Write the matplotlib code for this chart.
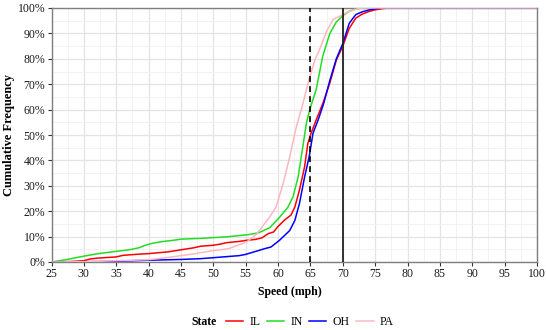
import matplotlib
matplotlib.use("Agg")
import matplotlib.pyplot as plt
from matplotlib.ticker import MultipleLocator, FuncFormatter

plt.rcParams['font.family'] = ['Liberation Serif', 'DejaVu Serif']

states = ["IL", "IN", "OH", "PA"]
colors = ["#FF0000", "#22DD22", "#0000FF", "#FFB6C1"]

il_speed = [25, 28, 30, 31, 32, 35, 36, 38, 40, 43, 45, 47, 48, 50, 51, 52, 54, 55, 56.5, 57.5, 58.5, 59.3, 60, 61, 62, 62.6, 63.3, 64.1, 64.6, 65.1, 65.9, 67, 68, 69, 70, 71, 72, 73, 74, 75, 76, 77, 100]
il_pct = [0, 0.2, 0.5, 1.2, 1.5, 2.0, 2.6, 3.0, 3.3, 4.0, 4.8, 5.6, 6.2, 6.6, 7.0, 7.6, 8.1, 8.5, 8.9, 9.5, 11.2, 11.8, 14.0, 16.5, 18.5, 21.7, 28.3, 37.5, 46.7, 50.7, 56, 63, 70.5, 79.5, 85, 92, 96, 97.6, 98.6, 99.3, 99.7, 100, 100]

in_speed = [25, 27, 30, 32, 35, 37, 38.5, 39.5, 40.5, 42, 44, 45, 48, 50, 52, 54, 55.5, 57, 58.7, 60.2, 61.5, 62.3, 63.1, 63.8, 64.4, 64.9, 65.9, 66.9, 68, 69, 70, 71, 72, 73, 100]
in_pct = [0, 0.8, 2.3, 3.2, 4.2, 4.8, 5.6, 6.6, 7.3, 8.0, 8.6, 9.0, 9.3, 9.6, 9.9, 10.4, 10.8, 11.5, 13.5, 17.5, 21.5, 25.6, 33.5, 45, 55, 60, 68, 81, 90, 94.5, 97, 98.7, 99.6, 100, 100]

oh_speed = [25, 30, 35, 40, 45, 48, 50, 52, 54, 55, 56.7, 58, 58.9, 60.2, 61.8, 62.6, 63.3, 64.1, 64.8, 65.4, 66.2, 67, 68, 69, 70, 71, 72, 73, 74, 75, 76, 100]
oh_pct = [0, 0.1, 0.3, 0.7, 1.0, 1.3, 1.7, 2.1, 2.5, 3.0, 4.3, 5.3, 5.9, 8.5, 12.4, 16.4, 23, 33.5, 41.4, 50.7, 56, 62, 71.5, 80, 86, 94, 97.4, 98.5, 99.2, 99.7, 100, 100]

pa_speed = [25, 30, 35, 40, 43.3, 45, 47, 49.5, 51, 52.3, 54, 55.1, 56.7, 58.7, 59.7, 60.8, 61.8, 62.8, 63.8, 64.9, 65.7, 66.4, 67.5, 68.5, 70, 71, 72, 73, 100]
pa_pct = [0, 0.1, 0.5, 0.9, 1.9, 2.5, 3.2, 4.3, 4.8, 5.2, 6.8, 7.8, 11, 17.7, 21.7, 31, 41.4, 53, 62, 73, 79.6, 83.6, 90.8, 95.5, 97.4, 98.7, 99.5, 100, 100]

speeds = [il_speed, in_speed, oh_speed, pa_speed]
pcts = [il_pct, in_pct, oh_pct, pa_pct]

x_ticks = list(range(25, 101, 5))
y_ticks = list(range(0, 101, 10))
limit_dashed = 65
limit_solid = 70

fs = 8.5
fig = plt.figure(figsize=(5.46, 3.30), dpi=100)
ax = fig.add_axes([51.5/546, 1-262/330, (537-51.5)/546, (262-8)/330])

for s, x, y, c in zip(states, speeds, pcts, colors):
    ax.plot(x, [v/100 for v in y], color=c, lw=1.1, label=s, zorder=3)

ax.axvline(limit_dashed, color="black", lw=1.2, ls=(0, (3.5, 2.5)), zorder=4)
ax.axvline(limit_solid, color="#222222", lw=1.3, zorder=4)

ax.set_xlim(25, 100)
ax.set_ylim(0, 1)
ax.set_xticks(x_ticks)
ax.set_yticks([t/100 for t in y_ticks])
ax.yaxis.set_major_formatter(FuncFormatter(lambda v, p: f"{int(round(v*100))}%"))
ax.xaxis.set_minor_locator(MultipleLocator(2.5))
ax.yaxis.set_minor_locator(MultipleLocator(0.05))
ax.grid(which="major", color="#e3e3e3", lw=0.9, zorder=0)
ax.grid(which="minor", color="#f0f0f0", lw=0.6, zorder=0)
ax.set_axisbelow(True)
for sp in ax.spines.values():
    sp.set_color("#7f7f7f")
    sp.set_linewidth(1.0)
ax.tick_params(which="major", direction="out", length=3, width=0.8, color="#333333", labelsize=fs, labelcolor="#1a1a1a", pad=1.5)
ax.tick_params(which="minor", length=0)

ax.set_xlabel("Speed (mph)", fontsize=fs, fontweight="bold")
ax.set_ylabel("Cumulative Frequency", fontsize=9, fontweight="bold")
ax.xaxis.set_label_coords((290 - 51.5)/485.5, (262 - 286)/254)
ax.yaxis.set_label_coords((15 - 51.5)/485.5, 0.5)

leg = fig.legend(loc="center", bbox_to_anchor=(310/546, 1-322/330), ncol=4, frameon=False,
                 fontsize=fs, handlelength=1.45, handletextpad=0.55, columnspacing=0.55,
                 borderaxespad=0, borderpad=0)
fig.text(191/546, 1-322/330, "State", fontsize=fs, fontweight="bold", ha="left", va="center")

fig.savefig("out.png", dpi=100)
